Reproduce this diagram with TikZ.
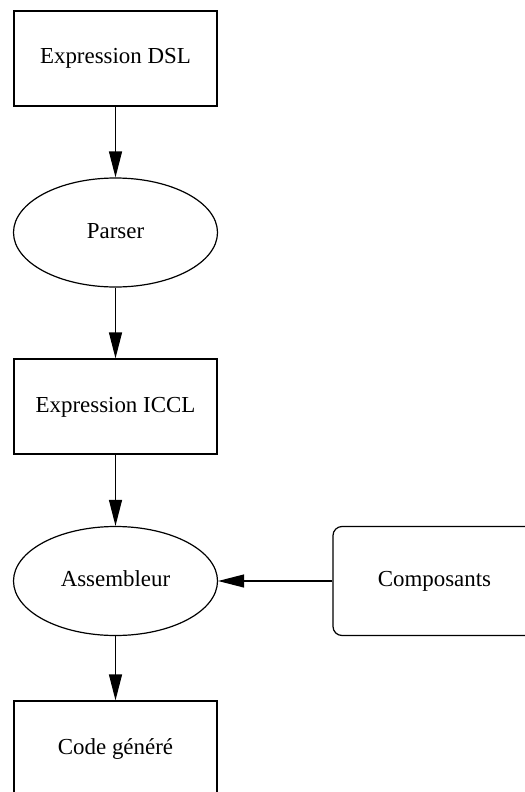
\documentclass[tikz,border=0pt]{standalone}
\usepackage{fontspec}
\setmainfont{Liberation Serif}
\usetikzlibrary{shapes.geometric, arrows.meta}
\begin{document}
\begin{tikzpicture}[x=1bp, y=-1bp,
  base/.style={draw, line width=1.2bp, inner sep=0pt,
    minimum width=203bp, text height=16bp, text depth=5bp,
    font=\fontsize{23}{27}\selectfont},
  boxnode/.style={base, rectangle, minimum height=95bp},
  roundbox/.style={base, rectangle, rounded corners=9bp, minimum height=109bp},
  proc/.style={base, ellipse, minimum width=204bp, minimum height=109bp},
  flow/.style={-{Triangle[length=26bp, width=13bp]}, line width=1.2bp}]
\useasboundingbox (0,0) rectangle (525,792);

% pipeline nodes
\node[boxnode] (dsl)  at (115.5,58.5)  {Expression DSL};
\node[proc]    (pars) at (115.5,232.5) {Parser};
\node[boxnode] (iccl) at (115.5,406.5) {Expression ICCL};
\node[proc]    (asm)  at (115.5,581)   {Assembleur};
\node[roundbox] (comp) at (434.5,581)  {Composants};
\node[boxnode] (code) at (115.5,748.5) {Code généré};

% connectors
\draw[flow] (dsl)  -- (pars);
\draw[flow] (pars) -- (iccl);
\draw[flow] (iccl) -- (asm);
\draw[flow] (comp) -- (asm);
\draw[flow] (asm)  -- (code);
\end{tikzpicture}
\end{document}
